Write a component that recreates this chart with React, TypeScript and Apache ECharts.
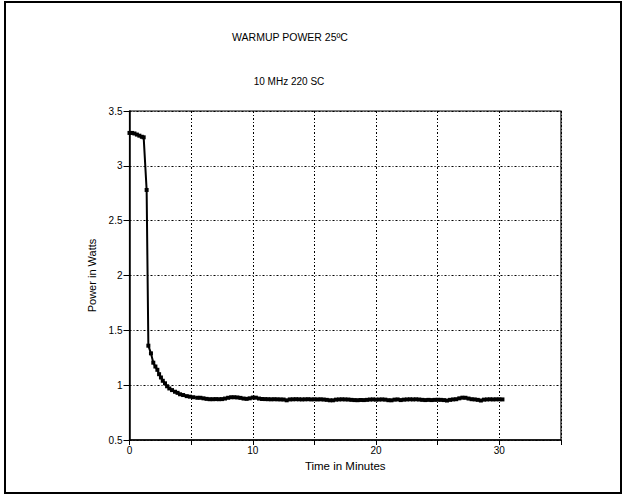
import React, { useEffect, useRef } from "react";
import * as echarts from "echarts";

const titleText = "WARMUP POWER 25ºC";
const subtitleText = "10 MHz 220 SC";
const xAxisName = "Time in Minutes";
const yAxisName = "Power in Watts";

// Warm-up phase (minutes, watts)
const earlyTimes = [0, 0.2, 0.4, 0.6, 0.8, 1.0, 1.15, 1.39, 1.53, 1.74, 1.93, 2.1, 2.26, 2.4, 2.55, 2.7, 2.88, 3.05, 3.23, 3.45, 3.69, 3.9, 4.1, 4.35, 4.64, 4.9, 5.17];
const earlyPower = [3.3, 3.3, 3.295, 3.285, 3.275, 3.265, 3.26, 2.78, 1.36, 1.29, 1.205, 1.17, 1.14, 1.1, 1.07, 1.04, 1.017, 0.99, 0.97, 0.955, 0.94, 0.93, 0.917, 0.91, 0.9, 0.895, 0.89];

// Steady phase, sampled every 0.25 min from 5.5 to 30.25
const steadyTimes = [
  5.5, 5.75, 6.0, 6.25, 6.5, 6.75, 7.0, 7.25, 7.5, 7.75,
  8.0, 8.25, 8.5, 8.75, 9.0, 9.25, 9.5, 9.75, 10.0, 10.25,
  10.5, 10.75, 11.0, 11.25, 11.5, 11.75, 12.0, 12.25, 12.5, 12.75,
  13.0, 13.25, 13.5, 13.75, 14.0, 14.25, 14.5, 14.75, 15.0, 15.25,
  15.5, 15.75, 16.0, 16.25, 16.5, 16.75, 17.0, 17.25, 17.5, 17.75,
  18.0, 18.25, 18.5, 18.75, 19.0, 19.25, 19.5, 19.75, 20.0, 20.25,
  20.5, 20.75, 21.0, 21.25, 21.5, 21.75, 22.0, 22.25, 22.5, 22.75,
  23.0, 23.25, 23.5, 23.75, 24.0, 24.25, 24.5, 24.75, 25.0, 25.25,
  25.5, 25.75, 26.0, 26.25, 26.5, 26.75, 27.0, 27.25, 27.5, 27.75,
  28.0, 28.25, 28.5, 28.75, 29.0, 29.25, 29.5, 29.75, 30.0, 30.25,
];
const steadyPower = [
  0.885, 0.885, 0.88, 0.875, 0.872, 0.872, 0.873, 0.872, 0.873, 0.878,
  0.885, 0.89, 0.89, 0.888, 0.884, 0.878, 0.875, 0.88, 0.887, 0.886,
  0.878, 0.874, 0.873, 0.872, 0.871, 0.872, 0.871, 0.87, 0.869, 0.862,
  0.87, 0.871, 0.872, 0.871, 0.87, 0.871, 0.872, 0.87, 0.871, 0.87,
  0.871, 0.869, 0.866, 0.862, 0.862, 0.868, 0.87, 0.871, 0.87, 0.869,
  0.866, 0.864, 0.863, 0.865, 0.864, 0.866, 0.869, 0.87, 0.868, 0.869,
  0.87, 0.868, 0.863, 0.862, 0.868, 0.87, 0.864, 0.868, 0.87, 0.871,
  0.87, 0.871, 0.869, 0.866, 0.864, 0.866, 0.864, 0.866, 0.867, 0.866,
  0.864, 0.86, 0.866, 0.87, 0.872, 0.88, 0.886, 0.885, 0.878, 0.872,
  0.87, 0.866, 0.86, 0.868, 0.87, 0.871, 0.87, 0.871, 0.871, 0.87,
];

const xTickLabels = ["0", "10", "20", "30"];

const FONT = "Liberation Sans, Arial, sans-serif";

export default function App() {
  const ref = useRef<HTMLDivElement>(null);

  useEffect(() => {
    document.body.style.margin = "0";
    if (!ref.current) return;
    const chart = echarts.init(ref.current, null, { renderer: "svg" });
    const times = [...earlyTimes, ...steadyTimes];
    const power = [...earlyPower, ...steadyPower];
    const data = times.map((t, i) => [t, power[i]]);

    const gridLine = { show: true, lineStyle: { color: "#000", width: 1, type: [2, 2, 1, 2] as any } };

    chart.setOption({
      animation: false,
      backgroundColor: "#fff",
      textStyle: { fontFamily: FONT, color: "#000" },
      graphic: [
        {
          type: "rect",
          shape: { x: 5, y: 2, width: 616, height: 491 },
          style: { fill: "none", stroke: "#000", lineWidth: 2 },
          silent: true,
        },
        {
          type: "text",
          x: 290,
          y: 36.5,
          style: { text: titleText, textAlign: "center", textVerticalAlign: "middle", fontFamily: FONT, fontSize: 10.5, fill: "#000" },
        },
        {
          type: "text",
          x: 289,
          y: 81,
          style: { text: subtitleText, textAlign: "center", textVerticalAlign: "middle", fontFamily: FONT, fontSize: 10, fill: "#000" },
        },
      ],
      grid: { left: 129.5, right: 63, top: 111, bottom: 60, show: true, borderColor: "#000", borderWidth: 1.2 },
      xAxis: {
        type: "value",
        min: 0,
        max: 35,
        interval: 5,
        name: xAxisName,
        nameLocation: "middle",
        nameGap: 17,
        nameTextStyle: { fontFamily: FONT, fontSize: 11.5, color: "#000" },
        axisLine: { show: true, onZero: false, lineStyle: { color: "#000", width: 1.5 } },
        axisTick: { show: true, length: 5, lineStyle: { color: "#000", width: 1 } },
        axisLabel: {
          margin: 5,
          fontFamily: FONT,
          fontSize: 10,
          color: "#000",
          formatter: (v: number) => (xTickLabels.includes(String(v)) ? String(v) : ""),
        },
        splitLine: gridLine,
      },
      yAxis: {
        type: "value",
        min: 0.5,
        max: 3.5,
        interval: 0.5,
        name: yAxisName,
        nameLocation: "middle",
        nameGap: 29,
        nameRotate: 90,
        nameTextStyle: { fontFamily: FONT, fontSize: 11, color: "#000" },
        axisLine: { show: true, onZero: false, lineStyle: { color: "#000", width: 1.5 } },
        axisTick: { show: true, length: 6, lineStyle: { color: "#000", width: 1 } },
        axisLabel: { margin: 7, fontFamily: FONT, fontSize: 10, color: "#000" },
        splitLine: gridLine,
      },
      series: [
        {
          type: "line",
          data,
          symbol: "rect",
          symbolSize: 4,
          showAllSymbol: true,
          lineStyle: { color: "#000", width: 2 },
          itemStyle: { color: "#000" },
        },
      ],
    });

    return () => chart.dispose();
  }, []);

  return <div ref={ref} style={{ width: 624, height: 500 }} />;
}
